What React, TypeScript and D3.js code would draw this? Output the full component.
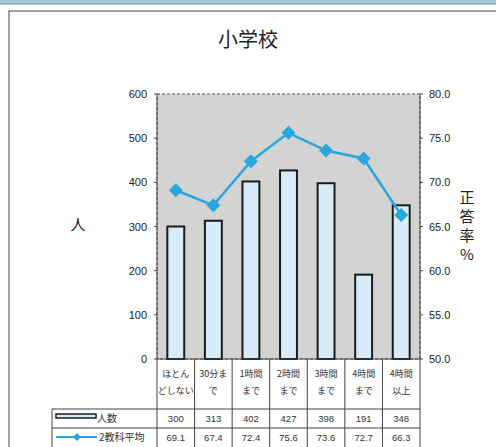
import React from "react";
import * as d3 from "d3";

const categories: string[][] = [
  ["ほとん", "どしない"],
  ["30分ま", "で"],
  ["1時間", "まで"],
  ["2時間", "まで"],
  ["3時間", "まで"],
  ["4時間", "まで"],
  ["4時間", "以上"],
];
const counts: number[] = [300, 313, 402, 427, 398, 191, 348];
const averages: number[] = [69.1, 67.4, 72.4, 75.6, 73.6, 72.7, 66.3];
const leftTicks: number[] = [0, 100, 200, 300, 400, 500, 600];
const rightTicks: number[] = [50, 55, 60, 65, 70, 75, 80];

const W = 496;
const H = 447;
const plot = { left: 157, right: 420, top: 94, bottom: 359 };
const JP = "'Noto Sans CJK JP', 'Noto Sans', sans-serif";
const NUM = "'Liberation Sans', Arial, sans-serif";

export default function App() {
  const x = d3
    .scaleBand<number>()
    .domain(d3.range(categories.length))
    .range([plot.left, plot.right])
    .paddingInner(0)
    .paddingOuter(0);
  const yL = d3.scaleLinear().domain([0, 600]).range([plot.bottom, plot.top]);
  const yR = d3.scaleLinear().domain([50, 80]).range([plot.bottom, plot.top]);
  const bw = x.bandwidth() * 0.45;
  const line = d3
    .line<number>()
    .x((_, i) => (x(i) as number) + x.bandwidth() / 2)
    .y((d) => yR(d));

  const row1 = 409;
  const row2 = 428;
  const tableBottom = 447;
  const legendLeft = 52;
  const diamond = (cx: number, cy: number, r: number) =>
    `M${cx},${cy - r}L${cx + r},${cy}L${cx},${cy + r}L${cx - r},${cy}Z`;

  return (
    <svg
      width={W}
      height={H}
      style={{ position: "absolute", left: 0, top: 0, background: "#fff" }}
    >
      {/* top strip */}
      <rect x={0} y={0} width={W} height={4} fill="#a8c6da" />
      <line x1={0} x2={W} y1={4} y2={4} stroke="#6f8fa5" strokeWidth={1} />
      {/* frame */}
      <rect x={9} y={11} width={W} height={H} fill="#fff" stroke="#444" strokeWidth={1} />

      <text x={248} y={47} textAnchor="middle" fontFamily={JP} fontSize={20} fill="#222">
        小学校
      </text>

      {/* plot background */}
      <rect
        x={plot.left}
        y={plot.top}
        width={plot.right - plot.left}
        height={plot.bottom - plot.top}
        fill="#d3d3d1"
        stroke="#555"
        strokeWidth={1}
        strokeDasharray="3,2"
      />

      {/* left axis */}
      {leftTicks.map((t) => (
        <g key={"l" + t}>
          <line x1={plot.left - 3} x2={plot.left} y1={yL(t)} y2={yL(t)} stroke="#444" />
          <text
            x={147}
            y={yL(t) + 4}
            textAnchor="end"
            fontFamily={NUM}
            fontSize={11}
            fill="#222"
          >
            {t}
          </text>
        </g>
      ))}
      {/* right axis */}
      {rightTicks.map((t) => (
        <g key={"r" + t}>
          <line x1={plot.right} x2={plot.right + 3} y1={yR(t)} y2={yR(t)} stroke="#444" />
          <text x={429} y={yR(t) + 4} fontFamily={NUM} fontSize={11} fill="#222">
            {t.toFixed(1)}
          </text>
        </g>
      ))}
      <line x1={plot.left} x2={plot.left} y1={plot.top} y2={plot.bottom} stroke="#444" />
      <line x1={plot.right} x2={plot.right} y1={plot.top} y2={plot.bottom} stroke="#444" />

      <text x={78} y={230} textAnchor="middle" fontFamily={JP} fontSize={15} fill="#222">
        人
      </text>
      {["正", "答", "率", "%"].map((c, i) => (
        <text
          key={c}
          x={467}
          y={203 + i * 19}
          textAnchor="middle"
          fontFamily={JP}
          fontSize={15}
          fill="#222"
        >
          {c}
        </text>
      ))}

      {/* bars */}
      {counts.map((v, i) => {
        const cx = (x(i) as number) + x.bandwidth() / 2;
        return (
          <rect
            key={"b" + i}
            x={cx - bw / 2}
            y={yL(v)}
            width={bw}
            height={plot.bottom - yL(v)}
            fill="#d8ebf8"
            stroke="#1b1b1b"
            strokeWidth={2}
          />
        );
      })}

      {/* line */}
      <path d={line(averages) || ""} fill="none" stroke="#2aa6df" strokeWidth={2.5} />
      {averages.map((v, i) => {
        const cx = (x(i) as number) + x.bandwidth() / 2;
        return <path key={"d" + i} d={diamond(cx, yR(v), 7)} fill="#2aa6df" />;
      })}

      {/* table */}
      <g stroke="#444" strokeWidth={1} fill="none">
        <line x1={plot.left} x2={plot.right} y1={plot.bottom} y2={plot.bottom} />
        <line x1={legendLeft} x2={plot.right} y1={row1} y2={row1} />
        <line x1={legendLeft} x2={plot.right} y1={row2} y2={row2} />
        <line x1={legendLeft} x2={legendLeft} y1={row1} y2={tableBottom} />
        {d3.range(categories.length + 1).map((i) => {
          const xx = i === categories.length ? plot.right : (x(i) as number);
          return <line key={"v" + i} x1={xx} x2={xx} y1={plot.bottom} y2={tableBottom} />;
        })}
      </g>
      {categories.map((lines, i) => {
        const cx = (x(i) as number) + x.bandwidth() / 2;
        return (
          <g key={"c" + i}>
            {lines.map((s, j) => (
              <text
                key={j}
                x={cx}
                y={377 + j * 17}
                textAnchor="middle"
                fontFamily={JP}
                fontSize={9}
                fill="#333"
              >
                {s}
              </text>
            ))}
            <text x={cx} y={422} textAnchor="middle" fontFamily={NUM} fontSize={9.5} fill="#333">
              {counts[i]}
            </text>
            <text x={cx} y={441} textAnchor="middle" fontFamily={NUM} fontSize={9.5} fill="#333">
              {averages[i].toFixed(1)}
            </text>
          </g>
        );
      })}

      {/* legend cells */}
      <rect x={56} y={414} width={40} height={4} fill="#d8ebf8" stroke="#1b1b1b" strokeWidth={1.5} />
      <text x={97} y={422} fontFamily={JP} fontSize={10} fill="#333">
        人数
      </text>
      <line x1={56} x2={97} y1={437} y2={437} stroke="#2aa6df" strokeWidth={2} />
      <path d={diamond(77, 437, 4)} fill="#2aa6df" />
      <text x={99} y={441} fontFamily={JP} fontSize={10} fill="#333">
        2教科平均
      </text>
    </svg>
  );
}
